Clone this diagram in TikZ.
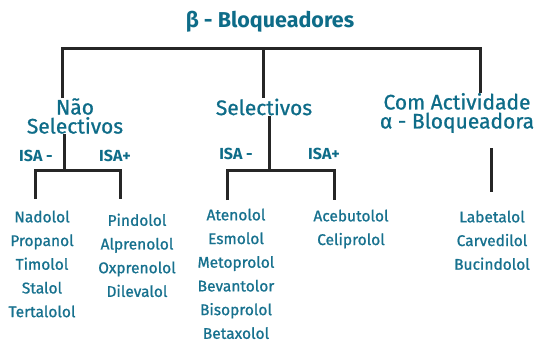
\documentclass[tikz,border=0pt]{standalone}
\usepackage{fontspec}
\setmainfont{Fira Sans}
\newfontfamily\medfont[FakeBold=0.9]{Fira Sans}
\definecolor{teal1}{HTML}{0E6C88}
\definecolor{teal2}{HTML}{17718E}
\tikzset{
  x=1pt,y=-1pt,
  ttl/.style={font=\fontsize{21.5}{22}\selectfont\bfseries, text=teal1, inner sep=0pt},
  hdr/.style={font=\medfont\fontsize{21}{19}\selectfont, text=teal1, align=center, inner sep=0pt},
  isa/.style={font=\fontsize{16}{18}\selectfont\bfseries, text=teal1, inner sep=0pt},
  itm/.style={font=\medfont\fontsize{15.5}{23.7}\selectfont, text=teal2, align=center, inner sep=0pt, anchor=north},
  ln/.style={line width=3pt, draw=black!85},
}
\begin{document}
\begin{tikzpicture}
\useasboundingbox (0,0) rectangle (537,342);
% title
\node[ttl] (t) at (270,22) {β - Bloqueadores};
\coordinate (tl) at (62,49);
\coordinate (tm) at (263,49);
\coordinate (tr) at (480,49);
% headers
\node[hdr] (h1) at (75,116) {Não\\Selectivos};
\node[hdr] (h2) at (264,107) {Selectivos};
\node[hdr] (h3) at (457,113) {Com Actividade\\α - Bloqueadora};
\draw[ln] (tl |- h1.north) -- (tl) -- (tr) -- (tr |- h3.north);
\draw[ln] (tm) -- (tm |- h2.north);
% group 1
\coordinate (a1) at (64,170);
\coordinate (a1l) at (35,170);
\coordinate (a1r) at (120,170);
\draw[ln] (a1 |- h1.south) -- (a1);
\draw[ln] (a1l |- 0,199) -- (a1l) -- (a1r) -- (a1r |- 0,199);
\node[isa] (i1) at (36,156) {ISA -};
\node[isa] (i2) at (115,156) {ISA+};
\node[itm] (l1) at (42,210.5) {Nadolol\\Propanol\\Timolol\\Stalol\\Tertalolol};
\node[itm] (l2) at (137,213.5) {Pindolol\\Alprenolol\\Oxprenolol\\Dilevalol};
% group 2
\coordinate (a2) at (269,170);
\coordinate (a2l) at (227,170);
\coordinate (a2r) at (334,170);
\draw[ln] (a2 |- h2.south) -- (a2);
\draw[ln] (a2l |- 0,200) -- (a2l) -- (a2r) -- (a2r |- 0,200);
\node[isa] (i3) at (236,154) {ISA -};
\node[isa] (i4) at (324,154) {ISA+};
\node[itm] (m1) at (236,208.5) {Atenolol\\Esmolol\\Metoprolol\\Bevantolor\\Bisoprolol\\Betaxolol};
\node[itm] (m2) at (351,209.5) {Acebutolol\\Celiprolol};
% group 3
\coordinate (a3t) at (491,148);
\coordinate (a3b) at (491,192);
\draw[ln] (a3t) -- (a3b);
\node[itm] (r1) at (492,210.5) {Labetalol\\Carvedilol\\Bucindolol};
\end{tikzpicture}
\end{document}
